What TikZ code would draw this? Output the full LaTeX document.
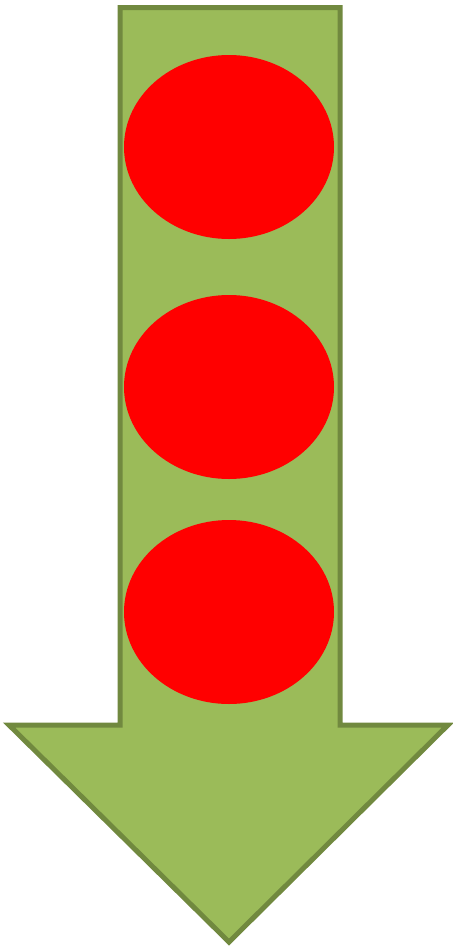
\documentclass[tikz,border=0pt]{standalone}
\usepackage{xcolor}
\definecolor{arrowgreen}{HTML}{9BBB59}
\definecolor{arrowedge}{HTML}{71893F}
\tikzset{
    bigarrow/.style={draw=arrowedge, fill=arrowgreen, line width=0.1cm, line join=miter},
    dot/.style={fill=red, draw=none},
}

\begin{document}
\begin{tikzpicture}[x=0.02cm, y=-0.02cm]
    \useasboundingbox (0,0) rectangle (453,947);
    % arrow body
    \draw[bigarrow] (120,7.5) -- (340,7.5) -- (340,725) -- (448,725)
        -- (229,942) -- (9,725) -- (120,725) -- cycle;
    % the three dots
    \foreach \cy in {147, 387, 612}
        \fill[dot] (229,\cy) ellipse [x radius=105, y radius=92];
\end{tikzpicture}
\end{document}
